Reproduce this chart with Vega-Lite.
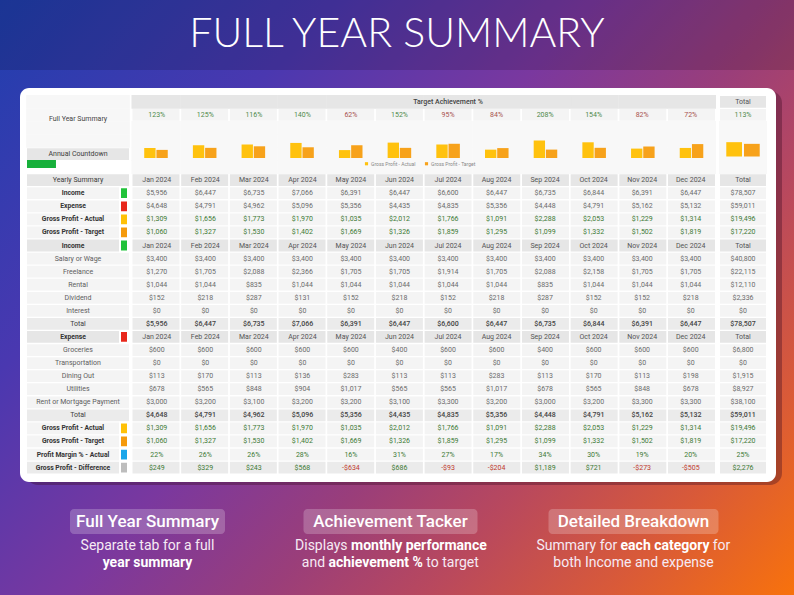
{
  "$schema": "https://vega.github.io/schema/vega-lite/v6.json",
  "width": 794,
  "height": 595,
  "autosize": {"type": "fit", "contains": "padding"},
  "padding": 0,
  "background": "#5a3a9a",
  "config": {
    "view": {"stroke": null},
    "font": "Roboto",
    "locale": {"number": {"decimal": ".", "thousands": ",", "grouping": [3], "currency": ["$", ""], "minus": "-"}}
  },
  "datasets": {
    "table": [
      {"row": "tgt_hdr", "kind": "title"},
      {"row": "tgt_pct", "kind": "pct", "label": "Full Year Summary", "Jan 2024": 1.23, "Feb 2024": 1.25, "Mar 2024": 1.16, "Apr 2024": 1.4, "May 2024": 0.62, "Jun 2024": 1.52, "Jul 2024": 0.95, "Aug 2024": 0.84, "Sep 2024": 2.08, "Oct 2024": 1.54, "Nov 2024": 0.82, "Dec 2024": 0.72, "Total": 1.13},
      {"row": "chart1", "kind": "chart"},
      {"row": "chart2", "kind": "chart"},
      {"row": "chart3", "kind": "chart", "label": "Annual Countdown"},
      {"row": "chart4", "kind": "chart", "countdown": 0.284},
      {"row": "ys_hdr", "kind": "hdr", "label": "Yearly Summary"},
      {"row": "ys_income", "kind": "val", "label": "Income", "swatch": "Income", "Jan 2024": 5956, "Feb 2024": 6447, "Mar 2024": 6735, "Apr 2024": 7066, "May 2024": 6391, "Jun 2024": 6447, "Jul 2024": 6600, "Aug 2024": 6447, "Sep 2024": 6735, "Oct 2024": 6844, "Nov 2024": 6391, "Dec 2024": 6447, "Total": 78507},
      {"row": "ys_expense", "kind": "val", "label": "Expense", "swatch": "Expense", "Jan 2024": 4648, "Feb 2024": 4791, "Mar 2024": 4962, "Apr 2024": 5096, "May 2024": 5356, "Jun 2024": 4435, "Jul 2024": 4835, "Aug 2024": 5356, "Sep 2024": 4448, "Oct 2024": 4791, "Nov 2024": 5162, "Dec 2024": 5132, "Total": 59011},
      {"row": "ys_gpa", "kind": "val", "label": "Gross Profit - Actual", "swatch": "Gross Profit - Actual", "Jan 2024": 1309, "Feb 2024": 1656, "Mar 2024": 1773, "Apr 2024": 1970, "May 2024": 1035, "Jun 2024": 2012, "Jul 2024": 1766, "Aug 2024": 1091, "Sep 2024": 2288, "Oct 2024": 2053, "Nov 2024": 1229, "Dec 2024": 1314, "Total": 19496},
      {"row": "ys_gpt", "kind": "val", "label": "Gross Profit - Target", "swatch": "Gross Profit - Target", "Jan 2024": 1060, "Feb 2024": 1327, "Mar 2024": 1530, "Apr 2024": 1402, "May 2024": 1669, "Jun 2024": 1326, "Jul 2024": 1859, "Aug 2024": 1295, "Sep 2024": 1099, "Oct 2024": 1332, "Nov 2024": 1502, "Dec 2024": 1819, "Total": 17220},
      {"row": "inc_hdr", "kind": "hdr", "label": "Income", "swatch": "Income"},
      {"row": "inc_salary", "kind": "val", "label": "Salary or Wage", "Jan 2024": 3400, "Feb 2024": 3400, "Mar 2024": 3400, "Apr 2024": 3400, "May 2024": 3400, "Jun 2024": 3400, "Jul 2024": 3400, "Aug 2024": 3400, "Sep 2024": 3400, "Oct 2024": 3400, "Nov 2024": 3400, "Dec 2024": 3400, "Total": 40800},
      {"row": "inc_freelance", "kind": "val", "label": "Freelance", "Jan 2024": 1270, "Feb 2024": 1705, "Mar 2024": 2088, "Apr 2024": 2366, "May 2024": 1705, "Jun 2024": 1705, "Jul 2024": 1914, "Aug 2024": 1705, "Sep 2024": 2088, "Oct 2024": 2158, "Nov 2024": 1705, "Dec 2024": 1705, "Total": 22115},
      {"row": "inc_rental", "kind": "val", "label": "Rental", "Jan 2024": 1044, "Feb 2024": 1044, "Mar 2024": 835, "Apr 2024": 1044, "May 2024": 1044, "Jun 2024": 1044, "Jul 2024": 1044, "Aug 2024": 1044, "Sep 2024": 835, "Oct 2024": 1044, "Nov 2024": 1044, "Dec 2024": 1044, "Total": 12110},
      {"row": "inc_dividend", "kind": "val", "label": "Dividend", "Jan 2024": 152, "Feb 2024": 218, "Mar 2024": 287, "Apr 2024": 131, "May 2024": 152, "Jun 2024": 218, "Jul 2024": 152, "Aug 2024": 218, "Sep 2024": 287, "Oct 2024": 152, "Nov 2024": 152, "Dec 2024": 218, "Total": 2336},
      {"row": "inc_interest", "kind": "val", "label": "Interest", "Jan 2024": 0, "Feb 2024": 0, "Mar 2024": 0, "Apr 2024": 0, "May 2024": 0, "Jun 2024": 0, "Jul 2024": 0, "Aug 2024": 0, "Sep 2024": 0, "Oct 2024": 0, "Nov 2024": 0, "Dec 2024": 0, "Total": 0},
      {"row": "inc_total", "kind": "tot", "label": "Total", "Jan 2024": 5956, "Feb 2024": 6447, "Mar 2024": 6735, "Apr 2024": 7066, "May 2024": 6391, "Jun 2024": 6447, "Jul 2024": 6600, "Aug 2024": 6447, "Sep 2024": 6735, "Oct 2024": 6844, "Nov 2024": 6391, "Dec 2024": 6447, "Total": 78507},
      {"row": "exp_hdr", "kind": "hdr", "label": "Expense", "swatch": "Expense"},
      {"row": "exp_groceries", "kind": "val", "label": "Groceries", "Jan 2024": 600, "Feb 2024": 600, "Mar 2024": 600, "Apr 2024": 600, "May 2024": 600, "Jun 2024": 400, "Jul 2024": 600, "Aug 2024": 600, "Sep 2024": 400, "Oct 2024": 600, "Nov 2024": 600, "Dec 2024": 600, "Total": 6800},
      {"row": "exp_transport", "kind": "val", "label": "Transportation", "Jan 2024": 0, "Feb 2024": 0, "Mar 2024": 0, "Apr 2024": 0, "May 2024": 0, "Jun 2024": 0, "Jul 2024": 0, "Aug 2024": 0, "Sep 2024": 0, "Oct 2024": 0, "Nov 2024": 0, "Dec 2024": 0, "Total": 0},
      {"row": "exp_dining", "kind": "val", "label": "Dining Out", "Jan 2024": 113, "Feb 2024": 170, "Mar 2024": 113, "Apr 2024": 136, "May 2024": 283, "Jun 2024": 113, "Jul 2024": 113, "Aug 2024": 283, "Sep 2024": 113, "Oct 2024": 170, "Nov 2024": 113, "Dec 2024": 198, "Total": 1915},
      {"row": "exp_utilities", "kind": "val", "label": "Utilities", "Jan 2024": 678, "Feb 2024": 565, "Mar 2024": 848, "Apr 2024": 904, "May 2024": 1017, "Jun 2024": 565, "Jul 2024": 565, "Aug 2024": 1017, "Sep 2024": 678, "Oct 2024": 565, "Nov 2024": 848, "Dec 2024": 678, "Total": 8927},
      {"row": "exp_rent", "kind": "val", "label": "Rent or Mortgage Payment", "Jan 2024": 3000, "Feb 2024": 3200, "Mar 2024": 3100, "Apr 2024": 3200, "May 2024": 3200, "Jun 2024": 3100, "Jul 2024": 3300, "Aug 2024": 3200, "Sep 2024": 3000, "Oct 2024": 3200, "Nov 2024": 3300, "Dec 2024": 3300, "Total": 38100},
      {"row": "exp_total", "kind": "tot", "label": "Total", "Jan 2024": 4648, "Feb 2024": 4791, "Mar 2024": 4962, "Apr 2024": 5096, "May 2024": 5356, "Jun 2024": 4435, "Jul 2024": 4835, "Aug 2024": 5356, "Sep 2024": 4448, "Oct 2024": 4791, "Nov 2024": 5162, "Dec 2024": 5132, "Total": 59011},
      {"row": "b_gpa", "kind": "val", "label": "Gross Profit - Actual", "swatch": "Gross Profit - Actual", "Jan 2024": 1309, "Feb 2024": 1656, "Mar 2024": 1773, "Apr 2024": 1970, "May 2024": 1035, "Jun 2024": 2012, "Jul 2024": 1766, "Aug 2024": 1091, "Sep 2024": 2288, "Oct 2024": 2053, "Nov 2024": 1229, "Dec 2024": 1314, "Total": 19496},
      {"row": "b_gpt", "kind": "val", "label": "Gross Profit - Target", "swatch": "Gross Profit - Target", "Jan 2024": 1060, "Feb 2024": 1327, "Mar 2024": 1530, "Apr 2024": 1402, "May 2024": 1669, "Jun 2024": 1326, "Jul 2024": 1859, "Aug 2024": 1295, "Sep 2024": 1099, "Oct 2024": 1332, "Nov 2024": 1502, "Dec 2024": 1819, "Total": 17220},
      {"row": "b_pm", "kind": "pct", "label": "Profit Margin % - Actual", "swatch": "Profit Margin % - Actual", "Jan 2024": 0.22, "Feb 2024": 0.26, "Mar 2024": 0.26, "Apr 2024": 0.28, "May 2024": 0.16, "Jun 2024": 0.31, "Jul 2024": 0.27, "Aug 2024": 0.17, "Sep 2024": 0.34, "Oct 2024": 0.3, "Nov 2024": 0.19, "Dec 2024": 0.2, "Total": 0.25},
      {"row": "b_diff", "kind": "diff", "label": "Gross Profit - Difference", "swatch": "Gross Profit - Difference", "Jan 2024": 249, "Feb 2024": 329, "Mar 2024": 243, "Apr 2024": 568, "May 2024": -634, "Jun 2024": 686, "Jul 2024": -93, "Aug 2024": -204, "Sep 2024": 1189, "Oct 2024": 721, "Nov 2024": -273, "Dec 2024": -505, "Total": 2276}
    ],
    "captions": [
      {"id": "c1", "head": "Full Year Summary", "l1": "Separate tab for a full", "l2": "year summary"},
      {"id": "c2", "head": "Achievement Tacker", "l1a": "Displays", "l1b": "monthly performance", "l2a": "and", "l2b": "achievement %", "l2c": "to target"},
      {"id": "c3", "head": "Detailed Breakdown", "l1a": "Summary for", "l1b": "each category", "l1c": "for", "l2": "both Income and expense"}
    ]
  },
  "resolve": {"scale": {"x": "independent", "y": "independent", "color": "independent"}, "legend": {"color": "independent"}},
  "layer": [
    {
      "data": {"values": [{}]},
      "mark": {"type": "rect", "color": {"gradient": "linear", "x1": 0, "y1": 0, "x2": 1.154, "y2": 0.769, "stops": [
        {"offset": 0, "color": "#1f3fae"},
        {"offset": 0.25, "color": "#4a38b0"},
        {"offset": 0.45, "color": "#7a389f"},
        {"offset": 0.6, "color": "#9a3e7a"},
        {"offset": 0.72, "color": "#b8485e"},
        {"offset": 0.86, "color": "#d95a38"},
        {"offset": 1, "color": "#f8720c"}
      ]}},
      "encoding": {}
    },
    {
      "data": {"values": [{"heading": "FULL YEAR SUMMARY"}]},
      "encoding": {"y": {"field": "heading", "type": "nominal", "scale": {"range": [0, 70], "paddingInner": 0, "paddingOuter": 0}, "axis": null}},
      "layer": [
        {"mark": {"type": "rect", "color": "#000000", "opacity": 0.15}},
        {"mark": {"type": "text", "font": "Lato", "fontWeight": 300, "fontSize": 41, "color": "#ffffff", "dy": 0}, "encoding": {"text": {"field": "heading"}}}
      ]
    },
    {
      "data": {"values": [{"card": "sheet"}]},
      "encoding": {
        "x": {"field": "card", "type": "nominal", "scale": {"range": [20, 776], "paddingInner": 0, "paddingOuter": 0}, "axis": null},
        "y": {"field": "card", "type": "nominal", "scale": {"range": [88, 482], "paddingInner": 0, "paddingOuter": 0}, "axis": null}
      },
      "layer": [
        {"mark": {"type": "rect", "color": "#3a0a20", "opacity": 0.35, "cornerRadius": 12, "xOffset": 6, "yOffset": 3, "x2Offset": 12, "y2Offset": 5}},
        {"mark": {"type": "rect", "color": "#ffffff", "cornerRadius": 9}}
      ]
    },
    {
      "data": {"name": "table"},
      "encoding": {"y": {"field": "row", "type": "nominal", "axis": null, "scale": {"domain": ["tgt_hdr", "tgt_pct", "chart1", "chart2", "chart3", "chart4", "ys_hdr", "ys_income", "ys_expense", "ys_gpa", "ys_gpt", "inc_hdr", "inc_salary", "inc_freelance", "inc_rental", "inc_dividend", "inc_interest", "inc_total", "exp_hdr", "exp_groceries", "exp_transport", "exp_dining", "exp_utilities", "exp_rent", "exp_total", "b_gpa", "b_gpt", "b_pm", "b_diff"], "range": [95.9, 473.5], "paddingInner": 0.1, "paddingOuter": 0}}},
      "resolve": {"scale": {"x": "independent"}},
      "layer": [
        {
          "transform": [{"filter": "datum.row !== 'chart4'"}],
          "mark": {"type": "rect", "strokeWidth": 1.6},
          "encoding": {
            "x": {"datum": "label", "type": "nominal", "scale": {"domain": ["label"], "range": [27, 129], "paddingInner": 0, "paddingOuter": 0}, "axis": null},
            "color": {"condition": [
              {"test": "indexof(['tgt_hdr','tgt_pct','chart1','chart2'], datum.row) >= 0", "value": "#f7f7f7"},
              {"test": "datum.row === 'chart3' || datum.kind === 'hdr'", "value": "#e6e6e6"},
              {"test": "datum.kind === 'tot' || datum.kind === 'diff'", "value": "#ebebeb"}
            ], "value": "#f4f4f4"},
            "stroke": {"condition": {"test": "indexof(['tgt_hdr','tgt_pct','chart1','chart2'], datum.row) >= 0", "value": "#f7f7f7"}, "value": "transparent"}
          }
        },
        {
          "transform": [{"filter": "datum.swatch"}],
          "mark": {"type": "rect", "stroke": "#ffffff", "strokeWidth": 2},
          "encoding": {
            "x": {"datum": "sw", "type": "nominal", "scale": {"domain": ["sw"], "range": [120, 128], "paddingInner": 0, "paddingOuter": 0}, "axis": null},
            "color": {"condition": [
              {"test": "datum.swatch === 'Income'", "value": "#21c23a"},
              {"test": "datum.swatch === 'Expense'", "value": "#e8271b"},
              {"test": "datum.swatch === 'Gross Profit - Actual'", "value": "#ffc107"},
              {"test": "datum.swatch === 'Gross Profit - Target'", "value": "#f59a0c"},
              {"test": "datum.swatch === 'Profit Margin % - Actual'", "value": "#1aa6ea"}
            ], "value": "#bdbdbd"}
          }
        },
        {
          "transform": [{"filter": "datum.label && !datum.swatch && datum.row !== 'tgt_pct'"}],
          "mark": {"type": "text", "fontSize": 7},
          "encoding": {
            "x": {"datum": "label", "type": "nominal", "scale": {"domain": ["label"], "range": [27, 129], "paddingInner": 0, "paddingOuter": 0}, "axis": null},
            "text": {"field": "label"},
            "color": {"condition": {"test": "datum.kind !== 'val'", "value": "#3d3d3d"}, "value": "#5e5e5e"}
          }
        },
        {
          "transform": [{"filter": "datum.row === 'tgt_pct'"}],
          "mark": {"type": "text", "fontSize": 7, "color": "#444444", "dy": 4},
          "encoding": {
            "x": {"datum": "label", "type": "nominal", "scale": {"domain": ["label"], "range": [27, 129], "paddingInner": 0, "paddingOuter": 0}, "axis": null},
            "text": {"field": "label"}
          }
        },
        {
          "transform": [{"filter": "datum.swatch"}],
          "mark": {"type": "text", "fontSize": 6.8, "fontWeight": "bold", "color": "#333333", "dx": -5},
          "encoding": {
            "x": {"datum": "label", "type": "nominal", "scale": {"domain": ["label"], "range": [27, 129], "paddingInner": 0, "paddingOuter": 0}, "axis": null},
            "text": {"field": "label"}
          }
        },
        {
          "transform": [{"filter": "datum.row === 'chart4'"}],
          "mark": {"type": "bar", "height": 8, "color": "#17b03b", "yOffset": -3},
          "encoding": {
            "x": {"field": "countdown", "type": "quantitative", "scale": {"domain": [0, 1], "range": [27, 129], "nice": false}, "axis": null}
          }
        },
        {
          "transform": [{"fold": ["Jan 2024", "Feb 2024", "Mar 2024", "Apr 2024", "May 2024", "Jun 2024", "Jul 2024", "Aug 2024", "Sep 2024", "Oct 2024", "Nov 2024", "Dec 2024", "Total"], "as": ["col", "value"]}, {"filter": "datum.col !== 'Total'"}],
          "mark": {"type": "rect", "strokeWidth": 2},
          "encoding": {
            "x": {"field": "col", "type": "nominal", "axis": null, "scale": {"domain": ["Jan 2024", "Feb 2024", "Mar 2024", "Apr 2024", "May 2024", "Jun 2024", "Jul 2024", "Aug 2024", "Sep 2024", "Oct 2024", "Nov 2024", "Dec 2024"], "range": [132.5, 715], "paddingInner": 0.035, "paddingOuter": 0}},
            "color": {"condition": [
              {"test": "datum.row === 'tgt_hdr' || datum.kind === 'hdr'", "value": "#e6e6e6"},
              {"test": "datum.kind === 'chart'", "value": "#f8f8f8"},
              {"test": "datum.kind === 'tot' || datum.kind === 'diff'", "value": "#ebebeb"}
            ], "value": "#f4f4f4"},
            "stroke": {"condition": [
              {"test": "datum.row === 'tgt_hdr'", "value": "#e6e6e6"},
              {"test": "datum.kind === 'chart'", "value": "#f8f8f8"}
            ], "value": "transparent"}
          }
        },
        {
          "transform": [{"fold": ["Jan 2024", "Feb 2024", "Mar 2024", "Apr 2024", "May 2024", "Jun 2024", "Jul 2024", "Aug 2024", "Sep 2024", "Oct 2024", "Nov 2024", "Dec 2024", "Total"], "as": ["col", "value"]}, {"filter": "datum.col === 'Total'"}],
          "mark": {"type": "rect", "strokeWidth": 2},
          "encoding": {
            "x": {"field": "col", "type": "nominal", "axis": null, "scale": {"domain": ["Total"], "range": [720, 766], "paddingInner": 0, "paddingOuter": 0}},
            "color": {"condition": [
              {"test": "datum.row === 'tgt_hdr' || datum.kind === 'hdr'", "value": "#e6e6e6"},
              {"test": "datum.kind === 'chart'", "value": "#f8f8f8"},
              {"test": "datum.kind === 'tot' || datum.kind === 'diff'", "value": "#ebebeb"}
            ], "value": "#f4f4f4"},
            "stroke": {"condition": {"test": "datum.kind === 'chart'", "value": "#f8f8f8"}, "value": "transparent"}
          }
        },
        {
          "transform": [{"fold": ["Jan 2024", "Feb 2024", "Mar 2024", "Apr 2024", "May 2024", "Jun 2024", "Jul 2024", "Aug 2024", "Sep 2024", "Oct 2024", "Nov 2024", "Dec 2024", "Total"], "as": ["col", "value"]}, {"filter": "datum.row === 'tgt_hdr' && datum.col === 'Jul 2024'"}],
          "mark": {"type": "text", "fontSize": 7, "fontWeight": 500, "color": "#444444"},
          "encoding": {
            "x": {"field": "col", "type": "nominal", "axis": null, "bandPosition": 0, "scale": {"domain": ["Jan 2024", "Feb 2024", "Mar 2024", "Apr 2024", "May 2024", "Jun 2024", "Jul 2024", "Aug 2024", "Sep 2024", "Oct 2024", "Nov 2024", "Dec 2024"], "range": [132.5, 715], "paddingInner": 0.035, "paddingOuter": 0}},
            "text": {"value": "Target Achievement %"}
          }
        },
        {
          "transform": [{"fold": ["Jan 2024", "Feb 2024", "Mar 2024", "Apr 2024", "May 2024", "Jun 2024", "Jul 2024", "Aug 2024", "Sep 2024", "Oct 2024", "Nov 2024", "Dec 2024", "Total"], "as": ["col", "value"]}, {"filter": "datum.col !== 'Total' && datum.kind === 'hdr'"}],
          "mark": {"type": "text", "fontSize": 7, "color": "#555555"},
          "encoding": {
            "x": {"field": "col", "type": "nominal", "axis": null, "scale": {"domain": ["Jan 2024", "Feb 2024", "Mar 2024", "Apr 2024", "May 2024", "Jun 2024", "Jul 2024", "Aug 2024", "Sep 2024", "Oct 2024", "Nov 2024", "Dec 2024"], "range": [132.5, 715], "paddingInner": 0.035, "paddingOuter": 0}},
            "text": {"field": "col"}
          }
        },
        {
          "transform": [{"fold": ["Jan 2024", "Feb 2024", "Mar 2024", "Apr 2024", "May 2024", "Jun 2024", "Jul 2024", "Aug 2024", "Sep 2024", "Oct 2024", "Nov 2024", "Dec 2024", "Total"], "as": ["col", "value"]}, {"filter": "datum.col !== 'Total' && (datum.kind === 'val' || datum.kind === 'diff')"}],
          "mark": {"type": "text", "fontSize": 7},
          "encoding": {
            "x": {"field": "col", "type": "nominal", "axis": null, "scale": {"domain": ["Jan 2024", "Feb 2024", "Mar 2024", "Apr 2024", "May 2024", "Jun 2024", "Jul 2024", "Aug 2024", "Sep 2024", "Oct 2024", "Nov 2024", "Dec 2024"], "range": [132.5, 715], "paddingInner": 0.035, "paddingOuter": 0}},
            "text": {"field": "value", "type": "quantitative", "format": "$,.0f"},
            "color": {"condition": [
              {"test": "datum.kind === 'diff' && datum.value < 0", "value": "#c0392b"},
              {"test": "datum.kind === 'diff' || indexof(['ys_gpa','ys_gpt','b_gpa','b_gpt'], datum.row) >= 0", "value": "#3d7a34"}
            ], "value": "#6b6b6b"}
          }
        },
        {
          "transform": [{"fold": ["Jan 2024", "Feb 2024", "Mar 2024", "Apr 2024", "May 2024", "Jun 2024", "Jul 2024", "Aug 2024", "Sep 2024", "Oct 2024", "Nov 2024", "Dec 2024", "Total"], "as": ["col", "value"]}, {"filter": "datum.col !== 'Total' && datum.kind === 'tot'"}],
          "mark": {"type": "text", "fontSize": 7, "fontWeight": 500, "color": "#444444"},
          "encoding": {
            "x": {"field": "col", "type": "nominal", "axis": null, "scale": {"domain": ["Jan 2024", "Feb 2024", "Mar 2024", "Apr 2024", "May 2024", "Jun 2024", "Jul 2024", "Aug 2024", "Sep 2024", "Oct 2024", "Nov 2024", "Dec 2024"], "range": [132.5, 715], "paddingInner": 0.035, "paddingOuter": 0}},
            "text": {"field": "value", "type": "quantitative", "format": "$,.0f"}
          }
        },
        {
          "transform": [{"fold": ["Jan 2024", "Feb 2024", "Mar 2024", "Apr 2024", "May 2024", "Jun 2024", "Jul 2024", "Aug 2024", "Sep 2024", "Oct 2024", "Nov 2024", "Dec 2024", "Total"], "as": ["col", "value"]}, {"filter": "datum.col !== 'Total' && datum.kind === 'pct'"}],
          "mark": {"type": "text", "fontSize": 7},
          "encoding": {
            "x": {"field": "col", "type": "nominal", "axis": null, "scale": {"domain": ["Jan 2024", "Feb 2024", "Mar 2024", "Apr 2024", "May 2024", "Jun 2024", "Jul 2024", "Aug 2024", "Sep 2024", "Oct 2024", "Nov 2024", "Dec 2024"], "range": [132.5, 715], "paddingInner": 0.035, "paddingOuter": 0}},
            "text": {"field": "value", "type": "quantitative", "format": ".0%"},
            "color": {"condition": [
              {"test": "datum.row === 'b_pm'", "value": "#3d7a34"},
              {"test": "datum.value >= 1", "value": "#4e8a4a"}
            ], "value": "#a8524e"}
          }
        },
        {
          "transform": [{"fold": ["Jan 2024", "Feb 2024", "Mar 2024", "Apr 2024", "May 2024", "Jun 2024", "Jul 2024", "Aug 2024", "Sep 2024", "Oct 2024", "Nov 2024", "Dec 2024", "Total"], "as": ["col", "value"]}, {"filter": "datum.col === 'Total' && (datum.kind === 'hdr' || datum.row === 'tgt_hdr')"}],
          "mark": {"type": "text", "fontSize": 7, "color": "#555555"},
          "encoding": {
            "x": {"field": "col", "type": "nominal", "axis": null, "scale": {"domain": ["Total"], "range": [720, 766], "paddingInner": 0, "paddingOuter": 0}},
            "text": {"field": "col"}
          }
        },
        {
          "transform": [{"fold": ["Jan 2024", "Feb 2024", "Mar 2024", "Apr 2024", "May 2024", "Jun 2024", "Jul 2024", "Aug 2024", "Sep 2024", "Oct 2024", "Nov 2024", "Dec 2024", "Total"], "as": ["col", "value"]}, {"filter": "datum.col === 'Total' && (datum.kind === 'val' || datum.kind === 'diff')"}],
          "mark": {"type": "text", "fontSize": 7},
          "encoding": {
            "x": {"field": "col", "type": "nominal", "axis": null, "scale": {"domain": ["Total"], "range": [720, 766], "paddingInner": 0, "paddingOuter": 0}},
            "text": {"field": "value", "type": "quantitative", "format": "$,.0f"},
            "color": {"condition": [
              {"test": "datum.kind === 'diff' && datum.value < 0", "value": "#c0392b"},
              {"test": "datum.kind === 'diff' || indexof(['ys_gpa','ys_gpt','b_gpa','b_gpt'], datum.row) >= 0", "value": "#3d7a34"}
            ], "value": "#6b6b6b"}
          }
        },
        {
          "transform": [{"fold": ["Jan 2024", "Feb 2024", "Mar 2024", "Apr 2024", "May 2024", "Jun 2024", "Jul 2024", "Aug 2024", "Sep 2024", "Oct 2024", "Nov 2024", "Dec 2024", "Total"], "as": ["col", "value"]}, {"filter": "datum.col === 'Total' && datum.kind === 'tot'"}],
          "mark": {"type": "text", "fontSize": 7, "fontWeight": 500, "color": "#444444"},
          "encoding": {
            "x": {"field": "col", "type": "nominal", "axis": null, "scale": {"domain": ["Total"], "range": [720, 766], "paddingInner": 0, "paddingOuter": 0}},
            "text": {"field": "value", "type": "quantitative", "format": "$,.0f"}
          }
        },
        {
          "transform": [{"fold": ["Jan 2024", "Feb 2024", "Mar 2024", "Apr 2024", "May 2024", "Jun 2024", "Jul 2024", "Aug 2024", "Sep 2024", "Oct 2024", "Nov 2024", "Dec 2024", "Total"], "as": ["col", "value"]}, {"filter": "datum.col === 'Total' && datum.kind === 'pct'"}],
          "mark": {"type": "text", "fontSize": 7},
          "encoding": {
            "x": {"field": "col", "type": "nominal", "axis": null, "scale": {"domain": ["Total"], "range": [720, 766], "paddingInner": 0, "paddingOuter": 0}},
            "text": {"field": "value", "type": "quantitative", "format": ".0%"},
            "color": {"condition": [
              {"test": "datum.row === 'b_pm'", "value": "#3d7a34"},
              {"test": "datum.value >= 1", "value": "#4e8a4a"}
            ], "value": "#a8524e"}
          }
        }
      ]
    },
    {
      "data": {"name": "table"},
      "transform": [
        {"filter": "datum.row === 'ys_gpa' || datum.row === 'ys_gpt'"},
        {"fold": ["Jan 2024", "Feb 2024", "Mar 2024", "Apr 2024", "May 2024", "Jun 2024", "Jul 2024", "Aug 2024", "Sep 2024", "Oct 2024", "Nov 2024", "Dec 2024", "Total"], "as": ["col", "value"]}
      ],
      "resolve": {"scale": {"x": "independent", "y": "independent", "xOffset": "independent"}},
      "layer": [
        {
          "transform": [{"filter": "datum.col !== 'Total'"}],
          "mark": {"type": "bar"},
          "encoding": {
            "x": {"field": "col", "type": "nominal", "axis": null, "scale": {"domain": ["Jan 2024", "Feb 2024", "Mar 2024", "Apr 2024", "May 2024", "Jun 2024", "Jul 2024", "Aug 2024", "Sep 2024", "Oct 2024", "Nov 2024", "Dec 2024"], "range": [132.5, 715], "paddingInner": 0.035, "paddingOuter": 0}},
            "xOffset": {"field": "label", "type": "nominal", "scale": {"domain": ["Gross Profit - Actual", "Gross Profit - Target"], "paddingInner": 0.07, "paddingOuter": 0.96}},
            "y": {"field": "value", "type": "quantitative", "stack": null, "axis": null, "scale": {"domain": [0, 2000], "range": [158, 142.7], "nice": false, "zero": true}},
            "color": {"field": "label", "type": "nominal", "scale": {"domain": ["Gross Profit - Actual", "Gross Profit - Target"], "range": ["#ffc20e", "#f7a21b"]},
              "legend": {"orient": "none", "legendX": 364, "legendY": 161, "direction": "horizontal", "title": null, "symbolType": "square", "symbolSize": 10, "symbolStrokeWidth": 0, "labelFontSize": 5, "labelColor": "#888888", "columnPadding": 8, "padding": 0, "labelOffset": 2}}
          }
        },
        {
          "transform": [{"filter": "datum.col === 'Total'"}],
          "mark": {"type": "bar"},
          "encoding": {
            "x": {"field": "col", "type": "nominal", "axis": null, "scale": {"domain": ["Total"], "range": [720, 766], "paddingInner": 0, "paddingOuter": 0}},
            "xOffset": {"field": "label", "type": "nominal", "scale": {"domain": ["Gross Profit - Actual", "Gross Profit - Target"], "paddingInner": 0.11, "paddingOuter": 0.355}},
            "y": {"field": "value", "type": "quantitative", "stack": null, "axis": null, "scale": {"domain": [0, 20000], "range": [156.5, 141.8], "nice": false, "zero": true}},
            "color": {"field": "label", "type": "nominal", "scale": {"domain": ["Gross Profit - Actual", "Gross Profit - Target"], "range": ["#ffc20e", "#f7a21b"]},
              "legend": {"orient": "none", "legendX": 364, "legendY": 161, "direction": "horizontal", "title": null, "symbolType": "square", "symbolSize": 10, "symbolStrokeWidth": 0, "labelFontSize": 5, "labelColor": "#888888", "columnPadding": 8, "padding": 0, "labelOffset": 2}}
          }
        }
      ]
    },
    {
      "data": {"name": "captions"},
      "encoding": {"x": {"field": "id", "type": "nominal", "axis": null, "scale": {"domain": ["c1", "c2", "c3"], "range": [26, 755], "paddingInner": 0.32, "paddingOuter": 0.16}}},
      "resolve": {"scale": {"y": "independent"}},
      "layer": [
        {
          "encoding": {"y": {"datum": "head", "type": "nominal", "axis": null, "scale": {"domain": ["head"], "range": [509, 534], "paddingInner": 0, "paddingOuter": 0}}},
          "layer": [
            {"transform": [{"filter": "datum.id === 'c1'"}], "mark": {"type": "rect", "color": "#ffffff", "opacity": 0.22, "cornerRadius": 4, "width": 155}},
            {"transform": [{"filter": "datum.id === 'c2'"}], "mark": {"type": "rect", "color": "#ffffff", "opacity": 0.22, "cornerRadius": 4, "width": 174}},
            {"transform": [{"filter": "datum.id === 'c3'"}], "mark": {"type": "rect", "color": "#ffffff", "opacity": 0.22, "cornerRadius": 4, "width": 170}},
            {"mark": {"type": "text", "fontSize": 17, "fontWeight": 500, "color": "#ffffff"}, "encoding": {"text": {"field": "head"}}}
          ]
        },
        {
          "encoding": {"y": {"field": "line", "type": "nominal", "axis": null, "scale": {"domain": ["l1", "l2"], "range": [537.5, 571.5], "paddingInner": 0, "paddingOuter": 0}}},
          "transform": [{"fold": ["l1", "l2", "l1a", "l1b", "l1c", "l2a", "l2b", "l2c"], "as": ["part", "txt"]}, {"filter": "datum.txt"}, {"filter": {"field": "part", "oneOf": ["l1", "l2", "l1a", "l1b", "l1c", "l2a", "l2b", "l2c"]}}],
          "layer": [
            {"transform": [{"filter": "datum.part === 'l1'"}, {"fold": ["part"], "as": ["k", "line"]}], "mark": {"type": "text", "fontSize": 14, "color": "#f6eaf4"}, "encoding": {"text": {"field": "txt"}}},
            {"transform": [{"filter": "datum.part === 'l2' && datum.id === 'c3'"}, {"fold": ["part"], "as": ["k", "line"]}], "mark": {"type": "text", "fontSize": 14, "color": "#f6eaf4"}, "encoding": {"text": {"field": "txt"}}},
            {"transform": [{"filter": "datum.part === 'l2' && datum.id === 'c1'"}, {"fold": ["part"], "as": ["k", "line"]}], "mark": {"type": "text", "fontSize": 14, "fontWeight": "bold", "color": "#ffffff"}, "encoding": {"text": {"field": "txt"}}},
            {"transform": [{"filter": "datum.part === 'l1a' && datum.id === 'c2'"}], "mark": {"type": "text", "fontSize": 14, "color": "#f6eaf4", "align": "right", "dx": -43}, "encoding": {"y": {"datum": "l1", "type": "nominal"}, "text": {"field": "txt"}}},
            {"transform": [{"filter": "datum.part === 'l1b' && datum.id === 'c2'"}], "mark": {"type": "text", "fontSize": 14, "fontWeight": "bold", "color": "#ffffff", "align": "left", "dx": -39.5}, "encoding": {"y": {"datum": "l1", "type": "nominal"}, "text": {"field": "txt"}}},
            {"transform": [{"filter": "datum.part === 'l2a' && datum.id === 'c2'"}], "mark": {"type": "text", "fontSize": 14, "color": "#f6eaf4", "align": "right", "dx": -65.4}, "encoding": {"y": {"datum": "l2", "type": "nominal"}, "text": {"field": "txt"}}},
            {"transform": [{"filter": "datum.part === 'l2b' && datum.id === 'c2'"}], "mark": {"type": "text", "fontSize": 14, "fontWeight": "bold", "color": "#ffffff", "align": "center", "dx": -14.8}, "encoding": {"y": {"datum": "l2", "type": "nominal"}, "text": {"field": "txt"}}},
            {"transform": [{"filter": "datum.part === 'l2c' && datum.id === 'c2'"}], "mark": {"type": "text", "fontSize": 14, "color": "#f6eaf4", "align": "left", "dx": 35.8}, "encoding": {"y": {"datum": "l2", "type": "nominal"}, "text": {"field": "txt"}}},
            {"transform": [{"filter": "datum.part === 'l1a' && datum.id === 'c3'"}], "mark": {"type": "text", "fontSize": 14, "color": "#f6eaf4", "align": "right", "dx": -16.2}, "encoding": {"y": {"datum": "l1", "type": "nominal"}, "text": {"field": "txt"}}},
            {"transform": [{"filter": "datum.part === 'l1b' && datum.id === 'c3'"}], "mark": {"type": "text", "fontSize": 14, "fontWeight": "bold", "color": "#ffffff", "align": "center", "dx": 31.5}, "encoding": {"y": {"datum": "l1", "type": "nominal"}, "text": {"field": "txt"}}},
            {"transform": [{"filter": "datum.part === 'l1c' && datum.id === 'c3'"}], "mark": {"type": "text", "fontSize": 14, "color": "#f6eaf4", "align": "left", "dx": 79.2}, "encoding": {"y": {"datum": "l1", "type": "nominal"}, "text": {"field": "txt"}}}
          ]
        }
      ]
    }
  ]
}
